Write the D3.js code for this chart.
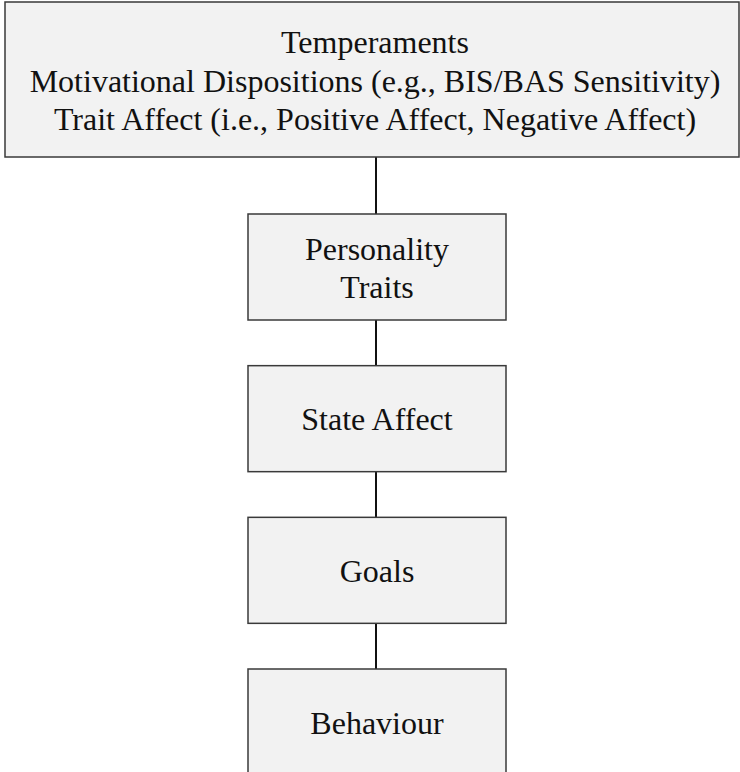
<!DOCTYPE html>
<html>
<head>
<meta charset="utf-8">
<script src="https://cdn.jsdelivr.net/npm/d3@7"></script>
<style>
  body { margin: 0; background: #fff; }
  svg { display: block; }
</style>
</head>
<body>
<div id="chart"></div>
<script>
// Box labels, top to bottom (each entry = lines of text)
var topLines = [
  "Temperaments",
  "Motivational Dispositions (e.g., BIS/BAS Sensitivity)",
  "Trait Affect (i.e., Positive Affect, Negative Affect)"
];
var levels = [1, 2, 3, 4];
var levelLines = [
  ["Personality", "Traits"],
  ["State Affect"],
  ["Goals"],
  ["Behaviour"]
];

var width = 740, height = 772;
var boxFill = "#f2f2f2", boxStroke = "#3a3a3a";
var fontFam = "'Liberation Serif', 'Times New Roman', serif";
var fontSize = "32px";

var svg = d3.select("#chart").append("svg")
  .attr("width", width)
  .attr("height", height);

// vertical position of each small box (top edge) by level
var y = d3.scaleLinear().domain([1, 4]).range([214, 669]);
var boxH = 106;
var boxX = d3.scaleLinear().domain([0, 1]).range([248, 506]);
var cx = 377;

var topBox = { x0: 5, x1: 739, y0: 2, y1: 157 };

// connectors
var tops = levels.map(function (l) { return y(l); });
var starts = [topBox.y1].concat(tops.slice(0, -1).map(function (t) { return t + boxH; }));
svg.selectAll("line.link")
  .data(levels)
  .enter()
  .append("line")
  .attr("class", "link")
  .attr("x1", cx - 1).attr("x2", cx - 1)
  .attr("y1", function (d, i) { return starts[i]; })
  .attr("y2", function (d) { return y(d); })
  .attr("stroke", "#111")
  .attr("stroke-width", 2);

// top box
svg.append("rect")
  .attr("x", topBox.x0).attr("y", topBox.y0)
  .attr("width", topBox.x1 - topBox.x0)
  .attr("height", topBox.y1 - topBox.y0)
  .attr("fill", boxFill)
  .attr("stroke", boxStroke)
  .attr("stroke-width", 1.5);

svg.append("g").selectAll("text")
  .data(topLines)
  .enter()
  .append("text")
  .attr("x", (topBox.x0 + topBox.x1) / 2 + 3)
  .attr("y", function (d, i) { return 42 + i * 38.5; })
  .attr("dy", "0.35em")
  .attr("text-anchor", "middle")
  .style("font-family", fontFam)
  .style("font-size", fontSize)
  .style("fill", "#111")
  .text(function (d) { return d; });

// small boxes
var boxes = svg.selectAll("g.box")
  .data(levels)
  .enter()
  .append("g")
  .attr("class", "box");

boxes.append("rect")
  .attr("x", boxX(0))
  .attr("y", function (d) { return y(d); })
  .attr("width", boxX(1) - boxX(0))
  .attr("height", boxH)
  .attr("fill", boxFill)
  .attr("stroke", boxStroke)
  .attr("stroke-width", 1.5);

boxes.each(function (d, i) {
  var lines = levelLines[i];
  var mid = y(d) + boxH / 2 + 0.5;
  var step = 38;
  d3.select(this).selectAll("text")
    .data(lines)
    .enter()
    .append("text")
    .attr("x", cx)
    .attr("y", function (t, j) { return mid + (j - (lines.length - 1) / 2) * step; })
    .attr("dy", "0.35em")
    .attr("text-anchor", "middle")
    .style("font-family", fontFam)
    .style("font-size", fontSize)
    .style("fill", "#111")
    .text(function (t) { return t; });
});
</script>
</body>
</html>
